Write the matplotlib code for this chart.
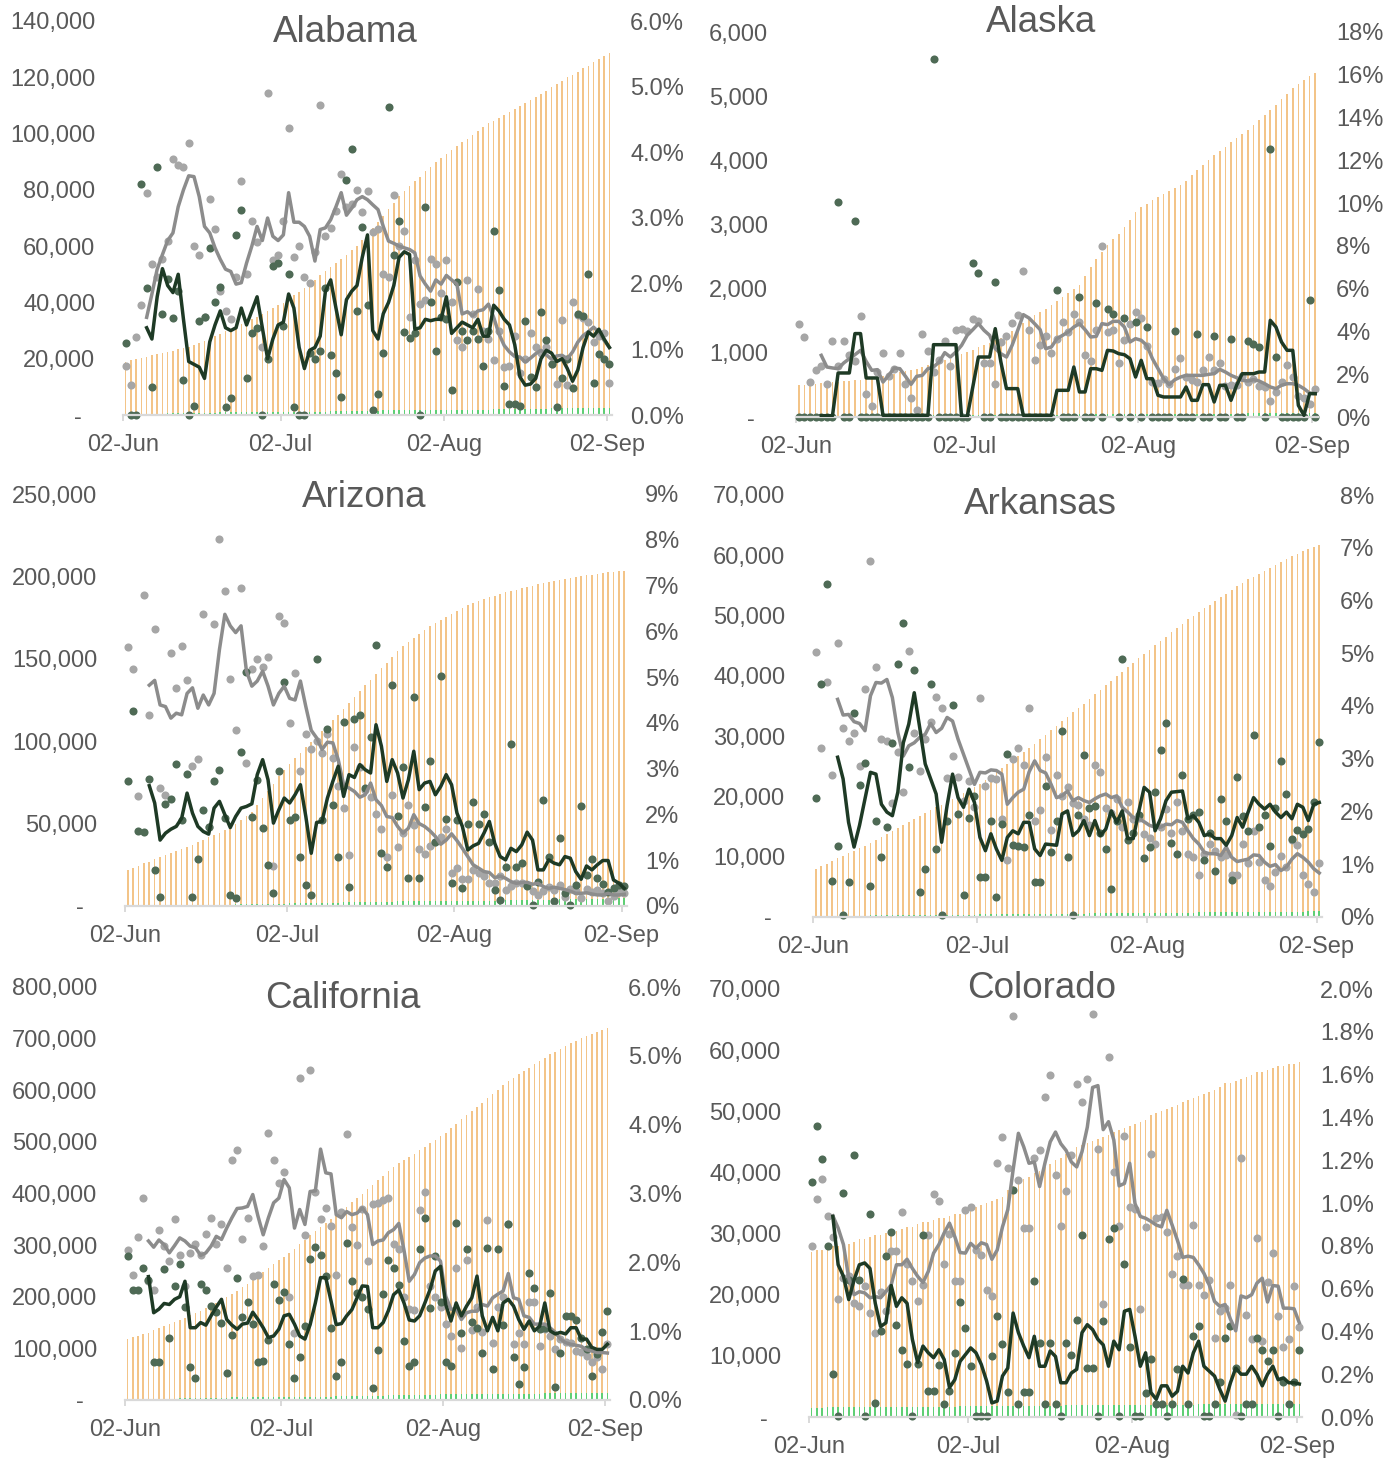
import numpy as np
import matplotlib.pyplot as plt
from matplotlib.ticker import FuncFormatter

plt.rcParams['font.family'] = ['Liberation Sans', 'DejaVu Sans']

# ---------------- data ----------------
# one value per day, 02-Jun .. 02-Sep (93 days); 7-day averages start on 06-Jun
date_labels = ['02-Jun', '02-Jul', '02-Aug', '02-Sep']
date_ticks = [0, 30, 61, 92]

# Alabama (thousands)
al_grey_dots = [17.3, 10.8, 27.6, 39, 79, 53.5, 49, 55.6, 62, 91, 89, 88, 96.5, 60, 57, 35, 76.7, 66, 44, 37,
                34, 49, 83, 50, 69, 61.5, 24, 114.5, 55, 56.7, 69, 102, 56, 60, 49, 47, 58, 110, 63.5, 66.5,
                72.6, 85.6, 74, 75, 80, 72, 79.6, 65, 66, 50, 49, 78, 60, 65.5, 34.7, 55, 39.6, 41, 55.6, 53.8,
                43.5, 55, 40, 26.7, 24, 48, 36, 44.7, 30, 27, 19.4, 30, 17, 17.3, 28, 15, 20, 29, 24, 22,
                24, 18, 11, 33.8, 10.6, 40, 35.5, 34.4, 33, 25.9, 28, 29, 11.4]
al_green_dots = [25.5, 0, 0, 82, 45, 10, 88, 36, 48.5, 34.6, 44, 12.6, 0, 3.3, 33.4, 35, 59.4, 40, 45.6, 3,
                 6, 64, 73, 13, 29, 31, 0, 20, 53, 54, 31.5, 50, 3, 0, 0, 22, 20, 22.6, 45, 21.4,
                 15, 6.5, 83.4, 94.5, 36.8, 66.7, 39, 1.8, 7.4, 22, 109.6, 56.7, 68.8, 29.6, 27.3, 29, 0, 73.9, 40, 22.6,
                 35, 34, 8.8, 47.4, 30, 26.5, 30, 27, 17.3, 30, 65.3, 44.5, 10.2, 3.9, 3.9, 3.2, 33.5, 13.5, 10, 36.5,
                 26.5, 18, 3, 13.2, 20, 9.6, 35.9, 35.3, 50.2, 11.2, 21.8, 20, 18.2]
al_grey_avg = [34.7, 43, 51.8, 57, 62, 64.7, 74, 80, 85, 84.7, 77.6, 67, 64.7, 59.4, 55.3, 51.8, 51, 46.5, 47, 54,
               60, 67, 62, 70, 63.5, 62, 64, 79, 68.5, 68.5, 67, 63.5, 54.7, 65.9, 66.5, 69.4, 74, 79, 71, 73.5,
               76.5, 77.6, 76.5, 74.7, 73, 67, 61.8, 61, 60, 59.4, 58.8, 57.6, 49.4, 46.5, 44, 48, 46.5, 49.6, 48, 46.5,
               35.9, 36.7, 35.3, 37, 37.4, 39.4, 34.7, 28.8, 24.7, 22.4, 20.8, 20.6, 18.8, 20.2, 21.8, 23, 21.4, 19.8,
               21, 21.2, 20, 22.4, 25.9, 28.2, 29.6, 31.2, 29.4, 26.5, 24]
al_green_avg = [31, 27, 42, 52, 46, 43.5, 50, 34, 19, 18, 17, 13, 26, 32, 37, 31, 30, 31, 38, 32,
                37, 42, 31, 20, 27, 32, 33, 43, 38, 24, 16.5, 23, 24, 28, 44, 48, 38, 28.5, 41, 44,
                46, 56, 64, 30, 27, 36, 40, 46, 56, 58, 57, 30.5, 31, 34, 33.5, 34, 34, 42, 29, 31,
                33, 32, 31, 34, 28, 28, 39, 37, 34, 32, 25, 13.5, 10.6, 11, 13, 20, 23, 22, 19, 20,
                16.5, 12, 16, 24, 29.5, 28, 30.5, 27, 24]
al_pos = [0.81, 0.83, 0.85, 0.87, 0.89, 0.91, 0.93, 0.94, 0.96, 0.98, 1.00, 1.02, 1.04, 1.06, 1.10, 1.13, 1.17,
          1.21, 1.24, 1.28, 1.31, 1.35, 1.39, 1.42, 1.46, 1.50, 1.54, 1.58, 1.63, 1.67, 1.71, 1.77, 1.83, 1.88,
          1.94, 2.00, 2.06, 2.13, 2.19, 2.25, 2.32, 2.38, 2.44, 2.51, 2.57, 2.66, 2.75, 2.85, 2.94, 3.03, 3.13,
          3.23, 3.33, 3.41, 3.48, 3.56, 3.63, 3.71, 3.78, 3.85, 3.91, 3.98, 4.04, 4.09, 4.15, 4.21, 4.27, 4.32,
          4.38, 4.44, 4.48, 4.53, 4.57, 4.62, 4.66, 4.71, 4.75, 4.80, 4.84, 4.89, 4.94, 4.99, 5.04, 5.09, 5.14,
          5.18, 5.23, 5.28, 5.32, 5.37, 5.42, 5.46, 5.51]
al_test = [0.02, 0.02, 0.02, 0.02, 0.02, 0.02, 0.02, 0.02, 0.03, 0.03, 0.03, 0.03, 0.03, 0.03, 0.03, 0.03, 0.03,
           0.03, 0.04, 0.04, 0.04, 0.04, 0.04, 0.04, 0.04, 0.04, 0.04, 0.04, 0.05, 0.05, 0.05, 0.05, 0.05, 0.05,
           0.05, 0.05, 0.05, 0.05, 0.05, 0.06, 0.06, 0.06, 0.06, 0.06, 0.06, 0.06, 0.06, 0.06, 0.06, 0.07, 0.07,
           0.07, 0.07, 0.07, 0.07, 0.07, 0.07, 0.07, 0.07, 0.08, 0.08, 0.08, 0.08, 0.08, 0.08, 0.08, 0.08, 0.08,
           0.08, 0.08, 0.09, 0.09, 0.09, 0.09, 0.09, 0.09, 0.09, 0.09, 0.09, 0.09, 0.09, 0.10, 0.10, 0.10, 0.10,
           0.10, 0.10, 0.10, 0.10, 0.10, 0.10, 0.10, 0.10]

# Alaska (units)
ak_grey_dots = [1455, 1247, 545, 738, 790, 509, 1184, 800, 1184, 970, 880, 1570, 364, 171, 700, 1003, 634, 750,
                1003, 509, 296, 104, 1300, 1029, 700, 883, 1184, 795, 1361, 1377, 1335, 1532, 1491, 842, 842,
                519, 1169, 1262, 1465, 1584, 2275, 1361, 883, 1117, 1262, 1000, 1210, 1480, 1325, 1600, 1480,
                971, 867, 1351, 2660, 1325, 1361, 842, 1200, 1455, 1636, 1543, 1100, 545, 530, 600, 509, 743,
                925, 623, 582, 545, 738, 935, 727, 842, 478, 494, 504, 634, 545, 600, 478, 468, 244, 390, 545,
                815, 623, 322, 296, 208, 442]
ak_green_dots = [0, 0, 0, 0, 0, 0, 0, 3350, 0, 0, 3050, 0, 0, 0, 0, 0, 0, 0, 0, 0,
                 0, 0, 0, 0, 5585, 0, 0, 0, 0, 0, 0, 2400, 2245, 0, 0, 2105, 0, 0, 0, 0,
                 0, 0, 0, 0, 0, 0, 1975, 0, 0, 0, 1870, 0, 0, 1775, 0, 1690, 1610, 0, 1545, 0,
                 1480, 0, 1400, 0, 0, 0, 0, 1340, 0, 0, 0, 1300, 0, 0, 1255, 0, 0, 1210, 0, 0,
                 1185, 1140, 1090, 0, 4180, 935, 0, 0, 0, 0, 0, 1820, 0]
ak_grey_avg = [961, 779, 764, 753, 842, 909, 971, 1039, 867, 727, 738, 545, 649, 764, 753, 634, 509, 634, 649, 753,
               779, 857, 1003, 935, 1013, 1117, 1273, 1361, 1455, 1351, 1273, 1065, 987, 935, 1117, 1351, 1595,
               1543, 1455, 1361, 1065, 1091, 1221, 1273, 1325, 1403, 1455, 1361, 1247, 1257, 1455, 1439, 1491,
               1491, 1403, 1169, 1221, 1195, 1117, 909, 753, 597, 504, 582, 623, 649, 649, 649, 649, 665, 675,
               743, 701, 649, 613, 571, 561, 582, 561, 519, 468, 442, 494, 519, 519, 494, 442, 374, 364]
ak_green_avg = [20, 20, 20, 686, 686, 686, 1300, 1300, 608, 608, 608, 26, 26, 26, 26, 26, 26, 26, 26, 26,
                1127, 1127, 1127, 1127, 1127, 0, 0, 468, 935, 935, 935, 1377, 857, 442, 442, 442, 26, 26, 26, 26,
                26, 26, 416, 416, 416, 779, 390, 390, 753, 753, 727, 1039, 1029, 987, 971, 909, 623, 883, 597, 597,
                338, 312, 312, 312, 312, 468, 260, 260, 504, 504, 234, 494, 494, 260, 494, 675, 675, 675, 701, 701,
                1506, 1403, 1169, 1039, 1039, 182, 26, 364, 364]
ak_pos = [1.48, 1.50, 1.53, 1.55, 1.57, 1.60, 1.62, 1.65, 1.67, 1.70, 1.72, 1.74, 1.77, 1.79, 1.85, 1.91, 1.97,
          2.03, 2.09, 2.15, 2.20, 2.26, 2.34, 2.42, 2.50, 2.57, 2.65, 2.73, 2.83, 2.94, 3.04, 3.15, 3.26, 3.37,
          3.48, 3.60, 3.71, 3.82, 4.02, 4.21, 4.41, 4.60, 4.76, 4.91, 5.07, 5.22, 5.41, 5.60, 5.78, 5.97, 6.16,
          6.60, 7.03, 7.41, 7.72, 8.03, 8.30, 8.57, 8.89, 9.23, 9.57, 9.82, 9.98, 10.14, 10.30, 10.44, 10.58,
          10.71, 10.85, 11.05, 11.30, 11.55, 11.80, 12.02, 12.23, 12.43, 12.64, 12.84, 13.04, 13.24, 13.44,
          13.67, 13.90, 14.12, 14.35, 14.60, 14.86, 15.11, 15.37, 15.55, 15.74, 15.92, 16.10]
ak_test = [0.05, 0.05, 0.05, 0.05, 0.05, 0.05, 0.05, 0.05, 0.05, 0.05, 0.06, 0.06, 0.06, 0.06, 0.06, 0.06, 0.06,
           0.06, 0.06, 0.06, 0.08, 0.08, 0.08, 0.08, 0.08, 0.08, 0.08, 0.08, 0.08, 0.08, 0.09, 0.09, 0.09, 0.09,
           0.09, 0.09, 0.09, 0.09, 0.09, 0.09, 0.11, 0.11, 0.11, 0.11, 0.11, 0.11, 0.11, 0.11, 0.11, 0.11, 0.12,
           0.12, 0.12, 0.12, 0.12, 0.12, 0.12, 0.12, 0.12, 0.12, 0.14, 0.14, 0.14, 0.14, 0.14, 0.14, 0.14, 0.14,
           0.14, 0.14, 0.15, 0.15, 0.15, 0.15, 0.15, 0.15, 0.15, 0.15, 0.15, 0.15, 0.17, 0.17, 0.17, 0.17, 0.17,
           0.17, 0.17, 0.17, 0.17, 0.17, 0.19, 0.19, 0.19]

# Arizona (thousands)
az_grey_dots = [157, 143.6, 66.5, 189, 115.6, 168, 71.6, 67.5, 153.7, 132, 158, 137, 84.8, 89, 177, 48, 171, 222.6,
                191, 137.5, 106.6, 193, 87, 143.6, 149.6, 145, 151, 24, 176, 172, 111, 141.5, 82, 104.6, 95.3, 100,
                93, 104.6, 90, 73, 59.4, 31, 96.5, 84.3, 70.6, 66, 56, 47, 30, 67.5, 36, 44, 61, 49, 34.5, 31.4,
                36.5, 39, 41.8, 47, 20, 23.3, 16.2, 16.2, 22, 20, 18, 14, 13.8, 18, 10, 12, 13.8, 14, 12.8, 9, 6.7,
                9.3, 11.8, 9.5, 12.8, 5.7, 10.2, 9.3, 4.7, 10.4, 8.7, 9.7, 7.7, 3, 6.3, 8.7, 7.7]
az_green_dots = [76, 118.6, 45.8, 45.2, 77, 21.9, 5.7, 62, 65, 86.4, 52, 80, 5.7, 28.4, 58.4, 48, 75.6, 82.7, 53.3,
                 6.7, 4.7, 93.3, 142, 54, 76.6, 47.6, 25, 7.7, 82, 136, 52, 54.3, 30, 12.8, 6.7, 149.6, 52.3, 107.5,
                 61, 30, 111.7, 11.8, 113.5, 116, 71.6, 102.4, 158.4, 32, 23.5, 134.4, 54.7, 84.3, 16.8, 127, 16.8,
                 60, 88, 39, 139.5, 53, 14, 52, 11, 50, 63, 50, 55.8, 39, 9.7, 3.6, 23.5, 98.3, 23.5, 26, 12, 0.6,
                 14.8, 64.5, 30, 3.2, 41, 8, 0.6, 12.8, 60.4, 18.9, 28.4, 16.8, 13.2, 8.7, 10.7, 12.8, 12.2]
az_grey_avg = [134, 136.9, 122, 121, 114, 117, 116, 129, 132.4, 120, 128, 122, 129, 155.7, 177, 170, 165.9, 170,
               142.5, 133.4, 136.5, 142.5, 133.4, 122, 129, 133.4, 126, 125, 136.5, 121, 106.6, 102, 95, 99.4, 99,
               88.8, 73.6, 71.6, 69.5, 66, 67.5, 74.6, 64.5, 61, 54.3, 53.7, 48.3, 44.2, 47.2, 55.4, 50, 48.3,
               45.6, 42.2, 37.5, 40, 43.8, 39.7, 35, 30, 25, 23, 20.9, 20.3, 17.2, 18.2, 16.8, 14.8, 13.8, 14.2,
               14.4, 13.2, 13.8, 11.8, 10.7, 11.4, 10.7, 10, 9, 7.7, 7.7, 8, 7.3, 6.7, 6.7, 7.7, 6.7, 6.7, 7.1]
az_green_avg = [73, 62.5, 40, 44.2, 46.6, 48.3, 53.3, 68.5, 56.4, 48.3, 45.2, 43.6, 59.4, 63.5, 55.4, 47.6, 54.3,
                59.4, 60.4, 62, 79.7, 88.8, 76.6, 50.3, 58.4, 65.5, 62.5, 67.5, 73.6, 54.3, 32, 50.7, 51.3, 65.5,
                75.6, 84.8, 66.5, 79.7, 78, 85.8, 82.7, 80.7, 110, 97, 75.6, 88.8, 80.7, 65.5, 76.6, 93.9, 70.6,
                74.6, 75.6, 67.5, 72.6, 79.7, 73.6, 56.4, 48.3, 34, 36.5, 38, 44.2, 51.3, 38, 30, 28, 35, 33, 37.1,
                44.8, 40, 21.9, 21.9, 28, 26, 25, 30, 29, 20.9, 16.2, 24.3, 21.9, 25, 27.6, 27.6, 15.8, 13.8, 10.7]
az_pos = [0.79, 0.84, 0.88, 0.93, 0.97, 1.02, 1.06, 1.11, 1.15, 1.20, 1.24, 1.29, 1.34, 1.39, 1.45, 1.50, 1.55,
          1.60, 1.66, 1.71, 1.79, 1.88, 1.97, 2.05, 2.20, 2.36, 2.51, 2.67, 2.83, 2.98, 3.11, 3.23, 3.35, 3.47,
          3.59, 3.70, 3.82, 3.94, 4.06, 4.17, 4.31, 4.44, 4.57, 4.70, 4.82, 4.94, 5.06, 5.19, 5.31, 5.43, 5.56,
          5.68, 5.77, 5.86, 5.95, 6.04, 6.11, 6.18, 6.25, 6.32, 6.38, 6.44, 6.50, 6.57, 6.61, 6.66, 6.70, 6.75,
          6.78, 6.82, 6.85, 6.88, 6.91, 6.94, 6.97, 7.00, 7.03, 7.05, 7.07, 7.10, 7.12, 7.14, 7.16, 7.18, 7.21,
          7.22, 7.24, 7.26, 7.27, 7.29, 7.30, 7.31, 7.32]
az_test = [0.02, 0.02, 0.02, 0.02, 0.02, 0.02, 0.02, 0.02, 0.02, 0.02, 0.03, 0.03, 0.03, 0.03, 0.03, 0.03, 0.03,
           0.03, 0.03, 0.03, 0.05, 0.05, 0.05, 0.05, 0.05, 0.05, 0.05, 0.05, 0.05, 0.05, 0.06, 0.06, 0.06, 0.06,
           0.06, 0.06, 0.06, 0.06, 0.06, 0.06, 0.08, 0.08, 0.08, 0.08, 0.08, 0.08, 0.08, 0.08, 0.08, 0.08, 0.10,
           0.10, 0.10, 0.10, 0.10, 0.10, 0.10, 0.10, 0.10, 0.10, 0.12, 0.12, 0.12, 0.12, 0.12, 0.12, 0.12, 0.12,
           0.12, 0.12, 0.14, 0.14, 0.14, 0.14, 0.14, 0.14, 0.14, 0.14, 0.14, 0.14, 0.16, 0.16, 0.16, 0.16, 0.16,
           0.16, 0.16, 0.16, 0.16, 0.16, 0.17, 0.17, 0.17]

# Arkansas (thousands)
ar_grey_dots = [44, 28, 38.9, 23.5, 45.5, 31.3, 29.2, 30.5, 25, 37.8, 59, 41.5, 29.5, 29.2, 18.9, 27.3, 20.8, 44.1,
                30.6, 24.3, 29.6, 32.4, 36.5, 34.6, 23, 26.7, 23.3, 19.3, 22.6, 18.2, 36.3, 21.8, 23, 22.9, 16.2,
                9.5, 26.2, 28.1, 25.2, 34.7, 15.9, 17.8, 26.6, 14.4, 23.5, 20, 21.5, 18.9, 18.5, 16.3, 15.2, 25.2,
                24, 18, 17.2, 19.5, 14.9, 19, 16.2, 16.5, 13.8, 13.1, 12.1, 15, 17.9, 14, 19, 14.2, 10.5, 10, 6.9,
                10.5, 12.1, 11, 10, 10.3, 6.9, 6.9, 12.1, 9, 14.3, 9.1, 6.1, 5.1, 7.4, 10.2, 8.3, 12.7, 12, 7, 5.5,
                4.1, 8.9]
ar_green_dots = [19.8, 38.6, 55.3, 5.9, 11.7, 0.3, 5.8, 33.9, 21.9, 25.6, 5.1, 16, 10, 14.9, 28.9, 41.9, 48.8, 24.9,
                 40.9, 4.1, 8, 38.7, 11.2, 0.3, 16, 35.1, 17.1, 3.6, 16.5, 20, 6.6, 6.6, 15.9, 3.4, 15.4, 27, 11.9,
                 11.7, 11.6, 16.9, 5.8, 5.8, 21.8, 10.7, 16, 30.9, 10, 0.3, 17, 26.8, 18, 18.4, 14, 11.3, 4.6, 16,
                 42.8, 12.7, 14, 17, 9.8, 11.6, 20.8, 27.7, 32.1, 12.2, 10.5, 23.6, 16.3, 17, 17.4, 9.5, 14, 7.7,
                 19.6, 16, 6.1, 23.3, 16.8, 14.3, 30.2, 14.9, 16.9, 11.7, 18, 25.9, 20.4, 13, 14.5, 13.8, 14.6, 19, 29]
ar_grey_avg = [36.1, 33.5, 33.6, 32.4, 32.1, 30.9, 36.7, 38.9, 38.8, 39.4, 36.4, 30.6, 26.7, 28.4, 28.9, 29.8, 30.3,
               32.1, 30.6, 31.3, 33.1, 32.5, 29.5, 27, 24.5, 22, 24, 23.9, 24.4, 24.3, 23.7, 18.7, 19.8, 20.7, 21.2,
               24.1, 25.9, 24.3, 23.9, 22, 19.8, 20.1, 20.9, 19.3, 19.8, 19.3, 19, 19.6, 20.1, 20.4, 19.8, 20.1,
               18.2, 17.4, 16.5, 16.3, 15.8, 15.2, 14.9, 14.9, 15.4, 15.3, 16, 15.7, 14.3, 13, 12.1, 10.7, 10.5,
               10.5, 10.2, 11.6, 9.9, 9.2, 9.4, 9.6, 10.3, 10.2, 9.1, 8.4, 8.7, 7.7, 8.3, 9.6, 10.5, 9.9, 9.1, 8, 7.3]
ar_green_avg = [26.5, 22.9, 15.7, 11.6, 15.2, 19.6, 24, 23.7, 18.7, 17.4, 16.8, 20.7, 28.9, 32, 37.2, 31.4, 25.4,
                22.9, 20.4, 12.4, 18.5, 23.7, 19.8, 18.2, 21.2, 19, 13.2, 11, 13.8, 11.3, 9.4, 13.2, 14.3, 13.8,
                15.7, 15.7, 11.3, 10.2, 12.1, 12, 11.9, 17.1, 17.6, 13.5, 14.3, 16, 13.5, 16, 13.5, 14.6, 17.6,
                15.7, 17.6, 13, 13, 17.4, 21.5, 20.7, 14.3, 16.3, 19.3, 20.7, 20.8, 20.9, 16.3, 16.8, 15.7, 13.5,
                13.8, 13, 13, 11.9, 13.5, 16.5, 14.9, 17.4, 19.8, 18.7, 17.9, 18.7, 17.4, 16.5, 17.4, 16.3, 18.7,
                18.2, 16, 18.7, 19]
ar_pos = [0.91, 0.96, 1.01, 1.06, 1.11, 1.16, 1.21, 1.25, 1.30, 1.35, 1.41, 1.46, 1.52, 1.57, 1.63, 1.69, 1.74,
          1.80, 1.86, 1.91, 1.97, 2.02, 2.08, 2.13, 2.19, 2.24, 2.30, 2.35, 2.40, 2.46, 2.53, 2.60, 2.68, 2.75,
          2.83, 2.90, 2.97, 3.05, 3.12, 3.20, 3.28, 3.37, 3.45, 3.54, 3.62, 3.71, 3.79, 3.88, 3.96, 4.04, 4.13,
          4.22, 4.30, 4.39, 4.48, 4.56, 4.65, 4.74, 4.82, 4.91, 4.99, 5.07, 5.15, 5.23, 5.31, 5.40, 5.48, 5.56,
          5.64, 5.71, 5.78, 5.85, 5.92, 5.99, 6.06, 6.13, 6.20, 6.27, 6.34, 6.40, 6.45, 6.51, 6.56, 6.62, 6.68,
          6.73, 6.79, 6.85, 6.89, 6.93, 6.97, 7.01, 7.06]
ar_test = [0.02, 0.02, 0.02, 0.02, 0.02, 0.02, 0.02, 0.02, 0.02, 0.02, 0.03, 0.03, 0.03, 0.03, 0.03, 0.03, 0.03,
           0.03, 0.03, 0.03, 0.04, 0.04, 0.04, 0.04, 0.04, 0.04, 0.04, 0.04, 0.04, 0.04, 0.05, 0.05, 0.05, 0.05,
           0.05, 0.05, 0.05, 0.05, 0.05, 0.05, 0.06, 0.06, 0.06, 0.06, 0.06, 0.06, 0.06, 0.06, 0.06, 0.06, 0.07,
           0.07, 0.07, 0.07, 0.07, 0.07, 0.07, 0.07, 0.07, 0.07, 0.08, 0.08, 0.08, 0.08, 0.08, 0.08, 0.08, 0.08,
           0.08, 0.08, 0.09, 0.09, 0.09, 0.09, 0.09, 0.09, 0.09, 0.09, 0.09, 0.09, 0.10, 0.10, 0.10, 0.10, 0.10,
           0.10, 0.10, 0.10, 0.10, 0.10, 0.11, 0.11, 0.11]

# California (thousands)
ca_grey_dots = [290, 243, 316, 391, 230, 214, 329, 299, 270, 351, 280, 220, 285, 302, 280, 322, 353, 303, 340, 256,
                465, 485, 311, 353, 240, 243, 299, 518, 464, 420, 441, 200, 130, 623, 320, 639, 402, 350, 372, 338,
                243, 365, 515, 335, 300, 370, 269, 380, 382, 388, 391, 303, 293, 200, 176, 174, 369, 402, 221, 200,
                180, 147, 124, 256, 100, 272, 136, 180, 132, 348, 110, 180, 200, 341, 109, 129, 108, 190, 189, 105,
                137, 124, 98, 118, 113, 111, 95, 93, 86, 74, 84, 60, 109]
ca_green_dots = [279, 214, 214, 256, 232, 73, 73, 253, 121, 221, 264, 180, 63, 42, 225, 214, 182, 170, 150, 52,
                 125, 237, 160, 190, 147, 73, 76, 116, 224, 193, 210, 108, 42, 84, 143, 273, 296, 281, 240, 139,
                 47, 73, 304, 230, 208, 200, 176, 24, 97, 206, 271, 256, 223, 115, 65, 73, 292, 353, 178, 279,
                 190, 74, 66, 343, 130, 292, 151, 140, 92, 295, 61, 293, 145, 340, 84, 31, 63, 246, 216, 137,
                 140, 208, 26, 92, 163, 163, 155, 120, 98, 46, 89, 132, 172]
ca_grey_avg = [308, 296, 310, 301, 285, 299, 314, 308, 298, 295, 280, 285, 298, 317, 311, 333, 353, 371, 372, 375,
               398, 356, 320, 353, 382, 391, 427, 411, 333, 369, 340, 404, 405, 486, 440, 438, 359, 353, 365, 359,
               362, 372, 359, 301, 308, 310, 324, 330, 342, 290, 230, 243, 266, 275, 279, 279, 269, 201, 176, 176,
               156, 169, 172, 172, 185, 182, 198, 205, 211, 245, 198, 195, 163, 160, 147, 147, 147, 140, 131, 118,
               111, 108, 106, 104, 97, 95, 92, 92, 91]
ca_green_avg = [239, 169, 176, 187, 185, 195, 200, 230, 140, 140, 150, 145, 163, 180, 195, 156, 145, 137, 147, 149,
                170, 156, 140, 121, 124, 137, 163, 166, 147, 124, 118, 146, 188, 237, 237, 192, 146, 148, 163, 175,
                198, 221, 220, 140, 140, 150, 173, 204, 213, 188, 155, 153, 163, 188, 214, 250, 259, 185, 153, 188,
                163, 182, 198, 240, 163, 134, 160, 134, 188, 195, 182, 156, 137, 153, 134, 143, 188, 134, 128, 131,
                128, 140, 140, 118, 118, 102, 98, 98, 108]
ca_pos = [0.88, 0.91, 0.93, 0.96, 0.98, 1.01, 1.04, 1.07, 1.10, 1.13, 1.16, 1.19, 1.23, 1.26, 1.30, 1.34, 1.37,
          1.41, 1.45, 1.50, 1.54, 1.59, 1.64, 1.69, 1.75, 1.81, 1.86, 1.92, 1.97, 2.03, 2.08, 2.14, 2.20, 2.26,
          2.33, 2.39, 2.45, 2.51, 2.57, 2.63, 2.69, 2.75, 2.81, 2.87, 2.93, 2.99, 3.06, 3.12, 3.19, 3.26, 3.32,
          3.39, 3.44, 3.48, 3.53, 3.58, 3.63, 3.68, 3.73, 3.78, 3.83, 3.88, 3.95, 4.01, 4.08, 4.14, 4.20, 4.26,
          4.32, 4.39, 4.45, 4.51, 4.57, 4.63, 4.68, 4.73, 4.78, 4.83, 4.88, 4.93, 4.97, 5.02, 5.06, 5.10, 5.14,
          5.18, 5.22, 5.26, 5.29, 5.31, 5.34, 5.37, 5.40]
ca_test = [0.02, 0.02, 0.02, 0.02, 0.02, 0.02, 0.02, 0.02, 0.02, 0.02, 0.03, 0.03, 0.03, 0.03, 0.03, 0.03, 0.03,
           0.03, 0.03, 0.03, 0.04, 0.04, 0.04, 0.04, 0.04, 0.04, 0.04, 0.04, 0.04, 0.04, 0.05, 0.05, 0.05, 0.05,
           0.05, 0.05, 0.05, 0.05, 0.05, 0.05, 0.06, 0.06, 0.06, 0.06, 0.06, 0.06, 0.06, 0.06, 0.06, 0.06, 0.07,
           0.07, 0.07, 0.07, 0.07, 0.07, 0.07, 0.07, 0.07, 0.07, 0.08, 0.08, 0.08, 0.08, 0.08, 0.08, 0.08, 0.08,
           0.08, 0.08, 0.09, 0.09, 0.09, 0.09, 0.09, 0.09, 0.09, 0.09, 0.09, 0.09, 0.10, 0.10, 0.10, 0.10, 0.10,
           0.10, 0.10, 0.10, 0.10, 0.10, 0.10, 0.10, 0.10]

# Colorado (thousands)
co_grey_dots = [27.9, 35.6, 38.9, 32.8, 29.5, 19.3, 22.7, 23, 18.6, 18.2, 21.5, 17, 13.8, 20.4, 17.3, 27.2, 27.2,
                33.6, 25, 22.2, 19, 21.6, 29.8, 36.5, 35.4, 25, 30, 22.3, 22.2, 33.8, 34.3, 27.3, 26.5, 20.8, 19.8,
                41.6, 45.8, 40.8, 65.6, 38.8, 30.9, 30.9, 42.3, 43.6, 52.4, 55.9, 39.6, 31.3, 37, 42.8, 54.5, 51.6,
                55.2, 65.9, 43.8, 18.4, 58.9, 40, 31.3, 46, 34.3, 34, 17.7, 31.1, 43, 32.5, 32.7, 30.3, 23.4, 26.3,
                21.6, 21.6, 31.4, 21.6, 20, 22.4, 12.9, 17.3, 17.9, 21.6, 0.4, 42.3, 16.7, 12.8, 29.2, 12.4, 22,
                26.8, 16.5, 11.4, 12.7, 21.5, 14.8]
co_green_dots = [38.4, 47.6, 42.2, 27.9, 7, 0.2, 36.7, 22.4, 42.9, 22.4, 0.2, 33.2, 2.3, 14, 26.4, 30.3, 15.1, 11,
                 8.6, 0.2, 8.6, 29.8, 4.2, 4.2, 8.5, 2.2, 4.2, 10.5, 18.8, 14.6, 8.3, 0.2, 0.2, 0.2, 10, 16.6, 12,
                 4.1, 37.1, 2.2, 4.1, 4.1, 22.3, 12.1, 2.2, 12.1, 2.2, 0.2, 12.1, 10.1, 15.9, 29.7, 8, 8, 0.2, 15.7,
                 29.1, 30.9, 0.2, 25, 11.4, 0.2, 0.2, 4, 9.5, 2.1, 2.1, 0.2, 2.1, 7.8, 22.6, 2.1, 13.2, 14.9, 0.2,
                 0.2, 2.2, 5.7, 12.9, 14.9, 8, 0.2, 2.1, 2.2, 13, 11, 9.1, 11, 0.2, 5.7, 2.2, 5.7, 11]
co_grey_avg = [32.9, 30.9, 28.2, 22.7, 20, 20.5, 20.3, 19.5, 19.7, 19.5, 20.5, 21.6, 24.9, 24.9, 25.8, 24.3, 23, 22,
               23.8, 26.8, 28.2, 30.1, 31.7, 29.5, 26.9, 26.8, 28.4, 27.6, 28.5, 28.2, 25.8, 27.3, 31.1, 33.9, 40.4,
               46.4, 44.2, 41.5, 41.7, 37.7, 41.5, 45, 46.6, 44.7, 43.6, 41.7, 40.9, 43.4, 47.4, 53.9, 54.2, 47,
               48.3, 45.3, 37.8, 38.2, 41.5, 34.9, 32.8, 32.5, 32, 31.4, 31.1, 33.8, 31.4, 28.9, 26.1, 26.3, 26.1,
               24.9, 23.5, 21.6, 18.9, 18.1, 18.4, 16, 14.1, 19.8, 19.5, 20, 21.9, 22.7, 18.8, 21.5, 21.4, 17.8,
               17.8, 17.7, 15.4]
co_green_avg = [32.8, 24.9, 23, 19.2, 22.4, 24.9, 25.2, 24.3, 18.6, 14.8, 15.4, 21.5, 18.1, 19.5, 18.6, 12.7, 8.9,
                11.6, 10.5, 9.7, 11, 9.4, 4.8, 6.1, 9.1, 10.2, 11.3, 10.5, 8.6, 5.9, 2.3, 2.6, 6.7, 8, 17, 13.8,
                11.6, 9.7, 13.2, 8.3, 8.3, 10.8, 9.9, 5.6, 5.6, 7.2, 7.8, 13.8, 15.1, 14.3, 12.7, 11.8, 8.3, 12.4,
                11, 17.3, 17.6, 13.2, 8.3, 10.5, 4, 2.9, 5.1, 5.1, 3.4, 4.2, 8.3, 7.2, 10.5, 12.4, 8.3, 7.5, 6.7,
                4.5, 2.6, 5.6, 8, 7, 7, 8.3, 7, 5.1, 7, 8.3, 6.1, 6.4, 5.6, 5.6, 5.4]
co_pos = [0.77, 0.78, 0.78, 0.79, 0.80, 0.80, 0.81, 0.81, 0.82, 0.83, 0.83, 0.84, 0.85, 0.85, 0.86, 0.87, 0.87,
          0.88, 0.89, 0.89, 0.90, 0.91, 0.91, 0.92, 0.93, 0.93, 0.94, 0.95, 0.95, 0.96, 0.97, 0.98, 0.99, 1.00,
          1.01, 1.02, 1.03, 1.06, 1.08, 1.09, 1.11, 1.12, 1.14, 1.15, 1.17, 1.18, 1.20, 1.21, 1.23, 1.24, 1.26,
          1.27, 1.28, 1.29, 1.30, 1.31, 1.32, 1.33, 1.34, 1.35, 1.36, 1.37, 1.38, 1.39, 1.41, 1.42, 1.43, 1.44,
          1.45, 1.46, 1.47, 1.48, 1.49, 1.50, 1.51, 1.52, 1.53, 1.54, 1.56, 1.56, 1.57, 1.58, 1.59, 1.60, 1.61,
          1.61, 1.62, 1.63, 1.64, 1.64, 1.65, 1.65, 1.66]
co_test = [0.044, 0.044, 0.044, 0.045, 0.045, 0.045, 0.045, 0.045, 0.046, 0.046, 0.046, 0.046, 0.046, 0.047,
           0.047, 0.047, 0.047, 0.047, 0.048, 0.048, 0.048, 0.048, 0.048, 0.049, 0.049, 0.049, 0.049, 0.049,
           0.050, 0.050, 0.050, 0.050, 0.050, 0.051, 0.051, 0.051, 0.051, 0.051, 0.052, 0.052, 0.052, 0.052,
           0.052, 0.053, 0.053, 0.053, 0.053, 0.053, 0.054, 0.054, 0.054, 0.054, 0.054, 0.055, 0.055, 0.055,
           0.055, 0.055, 0.056, 0.056, 0.056, 0.056, 0.056, 0.057, 0.057, 0.057, 0.057, 0.057, 0.058, 0.058,
           0.058, 0.058, 0.058, 0.059, 0.059, 0.059, 0.059, 0.059, 0.060, 0.060, 0.060, 0.060, 0.060, 0.060,
           0.060, 0.061, 0.061, 0.061, 0.061, 0.061, 0.061, 0.062, 0.062]

# ---------------- drawing ----------------
W, H = 1386, 1459
fig = plt.figure(figsize=(W / 100, H / 100), dpi=100)

TEXT = '#595959'
ORANGE = '#f3c488'
BAR_GREEN = '#5fcf74'
DOT_GREY = '#a6a6a6'
DOT_GREEN = '#4e6a55'
LINE_GREY = '#8c8c8c'
LINE_GREEN = '#1e3a25'
FS = 17

x = np.arange(93) + 0.5


def panel(box, title, title_xy, grey_dots, green_dots, grey_avg, green_avg, pos, test,
          unit, ymax, ystep, pmax, pstep, pdec):
    l, r, t, b = box
    ax = fig.add_axes([l / W, 1 - b / H, (r - l) / W, (b - t) / H])
    ax2 = ax.twinx()
    ax.set_zorder(ax2.get_zorder() + 1)
    ax.patch.set_visible(False)

    # cumulative rates on the right axis
    ax2.bar(x, pos, width=0.3, color=ORANGE, linewidth=0)
    ax2.bar(x, test, width=0.3, color=BAR_GREEN, linewidth=0)
    ax2.set_ylim(0, pmax)
    ax2.set_yticks(np.arange(0, pmax + pstep / 2, pstep))
    ax2.yaxis.set_major_formatter(FuncFormatter(lambda v, p: f'{v:.{pdec}f}%'))

    # daily values and 7-day averages on the left axis
    ax.scatter(x, np.array(grey_dots) * unit, s=34, color=DOT_GREY, linewidths=0, zorder=2, clip_on=False)
    ax.scatter(x, np.array(green_dots) * unit, s=34, color=DOT_GREEN, linewidths=0, zorder=2, clip_on=False)
    ax.plot(x[93 - len(grey_avg):], np.array(grey_avg) * unit, color=LINE_GREY, lw=2.5, zorder=3,
            solid_joinstyle='round')
    ax.plot(x[93 - len(green_avg):], np.array(green_avg) * unit, color=LINE_GREEN, lw=2.5, zorder=4,
            solid_joinstyle='round')
    ax.set_ylim(0, ymax)
    ax.set_yticks(np.arange(0, ymax + ystep / 2, ystep))
    ax.yaxis.set_major_formatter(FuncFormatter(lambda v, p: '-  ' if v == 0 else f'{v:,.0f}'))

    ax.set_xlim(0, 93)
    ax.set_xticks(date_ticks)
    ax.set_xticklabels(date_labels)

    for a in (ax, ax2):
        for s in ('top', 'left', 'right', 'bottom'):
            a.spines[s].set_visible(False)
    ax.spines['bottom'].set_visible(True)
    ax.spines['bottom'].set_color('#d9d9d9')
    ax.spines['bottom'].set_linewidth(1.6)

    ax.tick_params(axis='y', length=0, pad=20, labelsize=FS, labelcolor=TEXT)
    ax2.tick_params(axis='y', length=0, pad=13, labelsize=FS, labelcolor=TEXT)
    ax.tick_params(axis='x', length=4, width=1.4, color='#d9d9d9', pad=10, labelsize=FS, labelcolor=TEXT)

    fig.text(title_xy[0] / W, 1 - title_xy[1] / H, title, ha='center', va='center',
             fontsize=26.5, color=TEXT)


panel((123, 612, 21, 415), 'Alabama', (345, 33), al_grey_dots, al_green_dots, al_grey_avg, al_green_avg,
      al_pos, al_test, 1000, 140000, 20000, 6.0, 1.0, 1)
panel((796, 1318, 32, 417), 'Alaska', (1041, 23), ak_grey_dots, ak_green_dots, ak_grey_avg, ak_green_avg,
      ak_pos, ak_test, 1, 6000, 1000, 18, 2, 0)
panel((125, 627, 494, 906), 'Arizona', (364, 497), az_grey_dots, az_green_dots, az_grey_avg, az_green_avg,
      az_pos, az_test, 1000, 250000, 50000, 9, 1, 0)
panel((813, 1322, 495, 917), 'Arkansas', (1040, 504), ar_grey_dots, ar_green_dots, ar_grey_avg, ar_green_avg,
      ar_pos, ar_test, 1000, 70000, 10000, 8, 1, 0)
panel((125, 610, 987, 1400), 'California', (343, 999), ca_grey_dots, ca_green_dots, ca_grey_avg, ca_green_avg,
      ca_pos, ca_test, 1000, 800000, 100000, 6.0, 1.0, 1)
panel((809, 1302, 989, 1417), 'Colorado', (1042, 988), co_grey_dots, co_green_dots, co_grey_avg, co_green_avg,
      co_pos, co_test, 1000, 70000, 10000, 2.0, 0.2, 1)

fig.savefig('out.png', dpi=100)
